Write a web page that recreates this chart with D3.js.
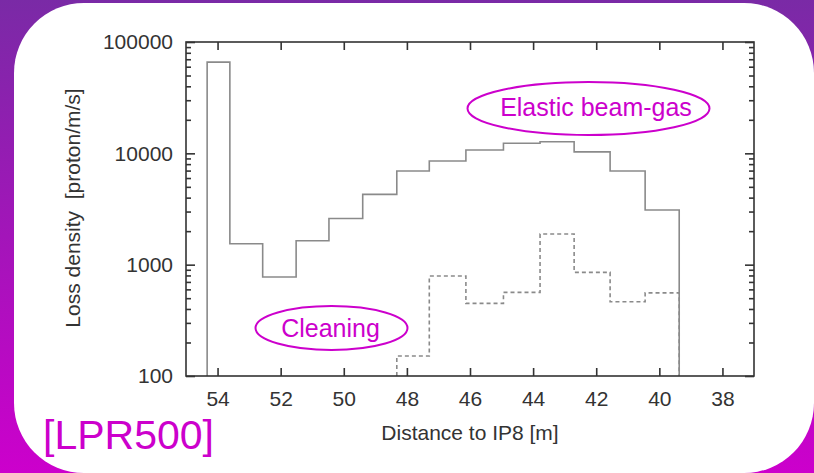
<!DOCTYPE html>
<html><head><meta charset="utf-8">
<script src="https://cdn.jsdelivr.net/npm/d3@7"></script>
<style>html,body{margin:0;padding:0;background:#fff;}svg{display:block;}</style>
</head><body>
<svg id="c" width="814" height="473"></svg>
<script>
// Bin edges (distance to IP8, m)
const binEdges = [54.33, 53.61, 52.57, 51.51, 50.47, 49.40, 48.32, 47.29, 46.13, 44.94, 43.78, 42.70, 41.56, 40.45, 39.37];
// Elastic beam-gas (solid), one value per bin
const elasticValues = [66000, 1540, 775, 1640, 2600, 4280, 6930, 8530, 10700, 12300, 12700, 10300, 6930, 3100];
// Cleaning (dashed), bins starting at edge index 6
const cleaningStart = 6;
const cleaningValues = [151, 790, 449, 564, 1884, 853, 464, 558];
const xTicks = [54, 52, 50, 48, 46, 44, 42, 40, 38];
const yTicks = [100, 1000, 10000, 100000];
const yTickLabels = ["100", "1000", "10000", "100000"];

const svg = d3.select("#c");
const defs = svg.append("defs");
const grad = defs.append("linearGradient").attr("id","bg").attr("x1",0).attr("y1",0).attr("x2",0).attr("y2",1);
grad.append("stop").attr("offset","0%").attr("stop-color","#7a2aa6");
grad.append("stop").attr("offset","100%").attr("stop-color","#cc00cc");
svg.append("rect").attr("width",814).attr("height",473).attr("fill","url(#bg)");
svg.append("rect").attr("x",14).attr("y",3).attr("width",800).attr("height",470).attr("rx",70).attr("ry",70).attr("fill","#fff");

const L = 186, R = 754, T = 42, B = 376;
const x = d3.scaleLinear().domain([55, 37]).range([L, R]);
const y = d3.scaleLog().domain([100, 100000]).range([B, T]);

const axisColor = "#333";
const font = "'Liberation Sans', Arial, sans-serif";

// histogram paths
function stepPath(edges, vals) {
  const pts = [];
  pts.push([x(edges[0]), y(100)]);
  vals.forEach((v, i) => {
    pts.push([x(edges[i]), y(v)]);
    pts.push([x(edges[i+1]), y(v)]);
  });
  pts.push([x(edges[vals.length]), y(100)]);
  return d3.line()(pts);
}
svg.append("path").attr("d", stepPath(binEdges, elasticValues))
  .attr("fill","none").attr("stroke","#8a8a8a").attr("stroke-width",1.6);
svg.append("path").attr("d", stepPath(binEdges.slice(cleaningStart), cleaningValues))
  .attr("fill","none").attr("stroke","#8a8a8a").attr("stroke-width",1.6).attr("stroke-dasharray","4,3");

// frame
svg.append("rect").attr("x",L).attr("y",T).attr("width",R-L).attr("height",B-T)
  .attr("fill","none").attr("stroke",axisColor).attr("stroke-width",1.6);

// axes ticks
const gB = svg.append("g").attr("transform",`translate(0,${B})`)
  .call(d3.axisBottom(x).tickValues(xTicks).tickSize(-8).tickPadding(14).tickFormat(d3.format("d")));
const gT = svg.append("g").attr("transform",`translate(0,${T})`)
  .call(d3.axisTop(x).tickValues(xTicks).tickSize(-8).tickFormat(""));
const gL = svg.append("g").attr("transform",`translate(${L},0)`)
  .call(d3.axisLeft(y).tickValues(yTicks).tickSize(-9).tickPadding(13).tickFormat((d,i)=>yTickLabels[i]));
const gR = svg.append("g").attr("transform",`translate(${R},0)`)
  .call(d3.axisRight(y).tickValues(yTicks).tickSize(-9).tickFormat(""));
const minor = [];
[100,1000,10000].forEach(b => { for (let k=2;k<=9;k++) minor.push(b*k); });
svg.append("g").attr("transform",`translate(${L},0)`)
  .call(d3.axisLeft(y).tickValues(minor).tickSize(-5).tickFormat(""));
svg.append("g").attr("transform",`translate(${R},0)`)
  .call(d3.axisRight(y).tickValues(minor).tickSize(-5).tickFormat(""));
svg.selectAll(".domain").remove();
svg.selectAll(".tick line").attr("stroke",axisColor).attr("stroke-width",1.6);
svg.selectAll(".tick text").attr("fill","#333").style("font-family",font).style("font-size","21px");
gB.selectAll(".tick text").attr("dy",null).attr("y",30);

// axis labels
svg.append("text").attr("x",470).attr("y",440).attr("text-anchor","middle")
  .attr("fill","#333").style("font-family",font).style("font-size","21px").text("Distance to IP8 [m]");
svg.append("text").attr("transform","translate(80,208) rotate(-90)").attr("text-anchor","middle")
  .attr("fill","#333").style("font-family",font).style("font-size","21px")
  .text("Loss density\u00a0\u00a0[proton/m/s]");

// annotations
const mag = "#cc00cc";
svg.append("ellipse").attr("cx",588.5).attr("cy",108.5).attr("rx",121).attr("ry",26.5)
  .attr("fill","none").attr("stroke",mag).attr("stroke-width",2);
svg.append("text").attr("x",596).attr("y",116).attr("text-anchor","middle")
  .attr("fill",mag).style("font-family",font).style("font-size","25px").text("Elastic beam-gas");
svg.append("ellipse").attr("cx",331.5).attr("cy",328).attr("rx",76).attr("ry",22)
  .attr("fill","none").attr("stroke",mag).attr("stroke-width",2);
svg.append("text").attr("x",330.5).attr("y",337).attr("text-anchor","middle")
  .attr("fill",mag).style("font-family",font).style("font-size","25px").text("Cleaning");
svg.append("text").attr("x",43).attr("y",449)
  .attr("fill",mag).style("font-family",font).style("font-size","41px").text("[LPR500]");
</script>
</body></html>
